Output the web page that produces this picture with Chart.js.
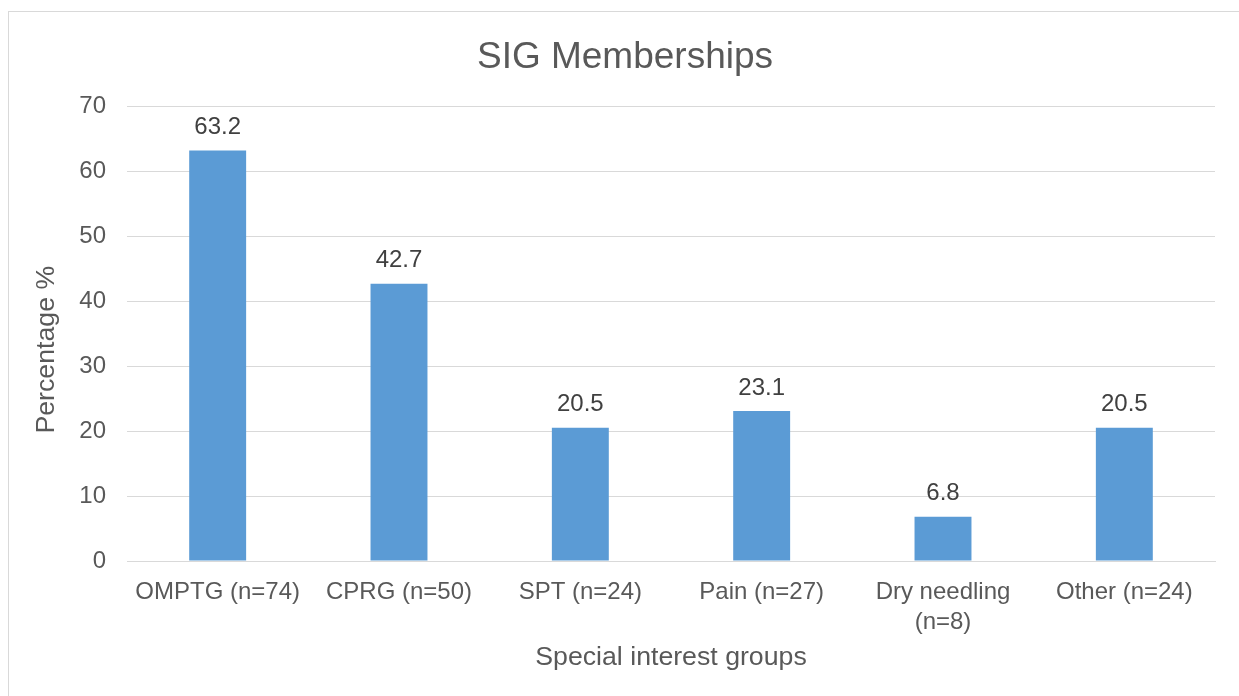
<!DOCTYPE html>
<html>
<head>
<meta charset="utf-8">
<script src="https://cdn.jsdelivr.net/npm/chart.js@4.4.1/dist/chart.umd.min.js"></script>
<style>
    html, body { margin: 0; padding: 0; background: #fff; overflow: hidden; }
    #wrap { position: relative; width: 1239px; height: 696px; }
    #frame { position: absolute; left: 8px; top: 11px; width: 1300px; height: 800px; border: 1px solid #d9d9d9; box-sizing: border-box; }
    #chart { position: absolute; left: 0; top: 0; }
</style>
</head>
<body>
<div id="wrap">
    <div id="frame"></div>
    <canvas id="chart" width="1239" height="696"></canvas>
</div>
<script>
// Chart data
const categories = ['OMPTG (n=74)', 'CPRG (n=50)', 'SPT (n=24)', 'Pain (n=27)', ['Dry needling', '(n=8)'], 'Other (n=24)'];
const percentages = [63.2, 42.7, 20.5, 23.1, 6.8, 20.5];
const yTicks = [0, 10, 20, 30, 40, 50, 60, 70];
const yTitle = 'Percentage %';

const textColor = '#595959';
const gridColor = '#d9d9d9';
const fontFamily = '"Liberation Sans", Arial, sans-serif';

// Value labels on top of each bar
const barLabels = {
    id: 'barLabels',
    afterDatasetsDraw(chart) {
        const ctx = chart.ctx;
        const meta = chart.getDatasetMeta(0);
        ctx.save();
        ctx.font = '24px ' + fontFamily;
        ctx.fillStyle = '#404040';
        ctx.textAlign = 'center';
        ctx.textBaseline = 'middle';
        meta.data.forEach(function (bar, i) {
            ctx.fillText(percentages[i].toFixed(1), bar.x, bar.y - 23);
        });
        ctx.restore();
    }
};

// Y axis title, sits a bit below the centre of the plot like the original
const yAxisTitle = {
    id: 'yAxisTitle',
    afterDraw(chart) {
        const ctx = chart.ctx;
        const area = chart.chartArea;
        ctx.save();
        ctx.translate(47, (area.top + area.bottom) / 2 + 16);
        ctx.rotate(-Math.PI / 2);
        ctx.font = '26.7px ' + fontFamily;
        ctx.fillStyle = textColor;
        ctx.textAlign = 'center';
        ctx.textBaseline = 'middle';
        ctx.fillText(yTitle, 0, 0);
        ctx.restore();
    }
};

new Chart(document.getElementById('chart'), {
    type: 'bar',
    data: {
        labels: categories,
        datasets: [{
            data: percentages,
            backgroundColor: '#5b9bd5',
            borderWidth: 0,
            barPercentage: 0.314,
            categoryPercentage: 1
        }]
    },
    options: {
        responsive: false,
        animation: false,
        events: [],
        layout: { padding: { left: 35, right: 24, top: 0, bottom: 0 } },
        plugins: {
            legend: { display: false },
            tooltip: { enabled: false },
            title: {
                display: true,
                text: 'SIG Memberships',
                color: textColor,
                font: { family: fontFamily, size: 37, weight: 'normal', lineHeight: 1.2 },
                padding: { top: 36, bottom: 26 }
            }
        },
        scales: {
            x: {
                grid: { display: false },
                border: { display: true, color: gridColor, width: 1 },
                ticks: {
                    color: textColor,
                    font: { family: fontFamily, size: 24, lineHeight: 1.25 },
                    padding: 8,
                    maxRotation: 0,
                    autoSkip: false
                },
                title: {
                    display: true,
                    text: 'Special interest groups',
                    color: textColor,
                    font: { family: fontFamily, size: 26.7, lineHeight: 1.2 },
                    padding: { top: 0, bottom: 22 }
                },
                afterFit(scale) { scale.height = 135; }
            },
            y: {
                min: 0,
                max: 70,
                afterBuildTicks(scale) {
                    scale.ticks = yTicks.map(function (v) { return { value: v }; });
                },
                grid: { color: gridColor, lineWidth: 1, drawTicks: false },
                border: { display: false },
                ticks: {
                    color: textColor,
                    font: { family: fontFamily, size: 24 },
                    padding: 21
                },
                afterFit(scale) { scale.width = 92; }
            }
        }
    },
    plugins: [barLabels, yAxisTitle]
});
</script>
</body>
</html>
